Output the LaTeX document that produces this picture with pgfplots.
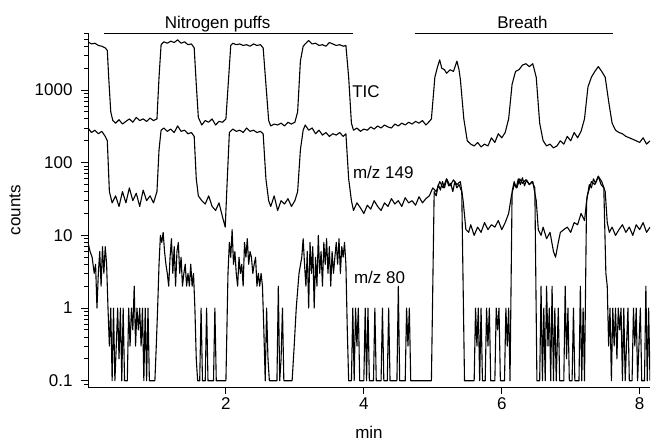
\documentclass[border=0pt]{standalone}
\usepackage{fontspec}
\setmainfont{Liberation Sans}
\usepackage{pgfplots}
\pgfplotsset{compat=1.18}
\begin{document}
\begin{tikzpicture}
\path (-88pt,-50pt) rectangle (564pt,387pt);
\begin{axis}[
  at={(0,0)}, anchor=south west,
  scale only axis, width=562pt, height=354pt,
  xmin=0, xmax=8.15, ymin=0.082, ymax=6085,
  ymode=log,
  axis lines=left, axis line style={-, line width=0.9pt},
  tick align=outside, tick style={line width=0.9pt, black},
  major tick length=7pt, minor tick length=4pt,
  xtick={2,4,6,8}, xticklabels={2,4,6,8},
  ytick={0.1,1,10,100,1000}, yticklabels={0.1,1,10,100,1000},
  minor ytick={0.09,0.2,0.3,0.4,0.5,0.6,0.7,0.8,0.9,2,3,4,5,6,7,8,9,20,30,40,50,60,70,80,90,200,300,400,500,600,700,800,900,2000,3000,4000,5000,6000},
  yticklabel style={xshift=-5pt},
  font=\fontsize{17}{20}\selectfont,
  /pgf/number format/assume math mode=true,
  xlabel={min}, ylabel={counts},
  every axis x label/.style={at={(axis description cs:0.5,-0.127)}, anchor=center},
  every axis y label/.style={at={(axis description cs:-0.130,0.5)}, rotate=90, anchor=center},
  clip mode=individual,
]
% TIC
\addplot[black, line width=1.1pt, line join=round, mark=none] coordinates {
(0.00,4600)(0.05,4300)(0.10,4400)(0.15,4100)(0.20,4000)(0.25,3800)(0.28,3500)(0.30,1500)(0.33,500)(0.36,380)
(0.40,350)(0.45,390)(0.50,340)(0.55,370)(0.60,400)(0.65,360)(0.70,420)(0.75,380)(0.80,400)(0.85,370)
(0.90,410)(0.95,380)(1.00,400)(1.03,1500)(1.06,4200)(1.10,4600)(1.15,4400)(1.20,4700)(1.25,4500)(1.30,4900)
(1.35,4400)(1.40,4600)(1.45,4200)(1.50,4300)(1.54,3800)(1.57,1200)(1.60,420)(1.65,330)(1.70,380)(1.75,360)
(1.80,400)(1.85,330)(1.90,370)(1.95,360)(2.00,400)(2.04,1500)(2.07,4100)(2.10,4400)(2.15,4200)(2.20,4300)
(2.25,4100)(2.30,4200)(2.35,4000)(2.40,4300)(2.45,4100)(2.50,4200)(2.54,3800)(2.58,1200)(2.62,380)(2.65,320)
(2.70,340)(2.75,330)(2.80,350)(2.85,320)(2.90,360)(2.95,340)(3.00,360)(3.04,500)(3.08,2500)(3.12,4000)
(3.15,4300)(3.20,4800)(3.25,4300)(3.30,4400)(3.35,4100)(3.40,4200)(3.45,4000)(3.50,4500)(3.55,4300)(3.60,4100)
(3.65,4200)(3.70,4000)(3.74,4100)(3.78,1500)(3.82,350)(3.85,280)(3.90,300)(3.95,270)(4.00,290)(4.05,280)
(4.10,310)(4.15,290)(4.20,320)(4.25,300)(4.30,330)(4.35,310)(4.40,300)(4.45,340)(4.50,320)(4.55,350)
(4.60,330)(4.65,360)(4.70,340)(4.75,370)(4.80,350)(4.85,380)(4.90,330)(4.95,370)(4.98,400)(5.03,1500)
(5.07,2100)(5.10,2600)(5.13,2000)(5.17,1900)(5.20,1700)(5.25,1900)(5.30,1800)(5.35,2500)(5.38,1900)(5.40,1400)
(5.45,400)(5.50,200)(5.55,180)(5.60,170)(5.65,190)(5.70,165)(5.75,180)(5.80,170)(5.85,220)(5.90,190)
(5.95,250)(6.00,220)(6.05,260)(6.10,400)(6.15,1200)(6.20,1800)(6.25,1900)(6.30,2200)(6.35,2300)(6.40,2100)
(6.45,2300)(6.50,1500)(6.55,350)(6.60,200)(6.65,170)(6.70,180)(6.75,160)(6.80,170)(6.85,200)(6.90,180)
(6.95,230)(7.00,200)(7.05,260)(7.10,220)(7.15,270)(7.20,400)(7.25,1100)(7.30,1500)(7.35,1800)(7.40,2100)
(7.45,1800)(7.50,1500)(7.55,700)(7.60,350)(7.65,280)(7.70,260)(7.75,250)(7.80,230)(7.85,220)(7.90,210)
(7.95,200)(8.00,190)(8.05,220)(8.10,180)(8.15,200)
};
% m/z 149
\addplot[black, line width=1.1pt, line join=round, mark=none] coordinates {
(0.00,300)(0.05,260)(0.10,280)(0.15,250)(0.20,270)(0.25,230)(0.28,200)(0.31,40)(0.35,28)(0.40,35)
(0.45,25)(0.50,40)(0.55,28)(0.60,45)(0.65,30)(0.70,38)(0.75,25)(0.80,42)(0.85,30)(0.90,35)
(0.95,28)(1.00,40)(1.03,150)(1.06,280)(1.10,300)(1.15,270)(1.20,290)(1.25,260)(1.30,320)(1.35,270)
(1.40,280)(1.45,250)(1.50,260)(1.54,230)(1.57,60)(1.60,35)(1.65,30)(1.70,27)(1.75,35)(1.80,25)
(1.85,22)(1.90,28)(1.95,18)(1.99,13)(2.02,60)(2.05,260)(2.10,290)(2.15,270)(2.20,280)(2.25,260)
(2.30,300)(2.35,270)(2.40,280)(2.45,260)(2.50,270)(2.54,250)(2.58,60)(2.62,30)(2.65,25)(2.70,35)
(2.75,22)(2.80,30)(2.85,27)(2.90,32)(2.95,25)(3.00,30)(3.04,40)(3.08,150)(3.12,280)(3.15,330)
(3.20,280)(3.25,300)(3.30,250)(3.35,280)(3.40,240)(3.45,260)(3.50,230)(3.55,250)(3.60,240)(3.65,260)
(3.70,230)(3.74,250)(3.78,60)(3.82,30)(3.85,22)(3.90,28)(3.95,24)(4.00,20)(4.05,26)(4.10,23)
(4.15,30)(4.20,25)(4.25,22)(4.30,28)(4.35,25)(4.40,32)(4.45,27)(4.50,30)(4.55,25)(4.60,33)
(4.65,28)(4.70,30)(4.75,26)(4.80,34)(4.85,28)(4.90,32)(4.95,35)(5.00,45)(5.05,40)(5.10,55)
(5.15,45)(5.20,60)(5.25,48)(5.30,58)(5.35,50)(5.40,55)(5.44,30)(5.48,12)(5.52,11)(5.55,14)
(5.60,10)(5.65,13)(5.70,11)(5.75,15)(5.80,12)(5.85,14)(5.90,13)(5.95,16)(6.00,12)(6.05,15)
(6.10,20)(6.14,35)(6.18,50)(6.22,45)(6.26,60)(6.30,52)(6.35,58)(6.40,50)(6.45,55)(6.50,30)
(6.53,12)(6.57,10)(6.60,13)(6.65,9)(6.70,11)(6.75,6)(6.78,5)(6.82,8)(6.85,11)(6.90,12)
(6.95,13)(7.00,11)(7.05,15)(7.10,14)(7.15,20)(7.20,16)(7.24,35)(7.30,55)(7.35,50)(7.40,65)
(7.45,55)(7.50,40)(7.53,15)(7.56,11)(7.60,13)(7.65,10)(7.70,12)(7.75,14)(7.80,11)(7.85,13)
(7.90,10)(7.95,14)(8.00,12)(8.05,15)(8.10,11)(8.15,13)
};
% m/z 80
\addplot[black, line width=1.1pt, line join=round, mark=none] coordinates {
(0.00,8)(0.03,6)(0.06,5)(0.09,3)(0.11,4)(0.13,1)(0.15,3)(0.17,6)(0.19,2)(0.21,7)
(0.23,3)(0.25,7)(0.27,4)(0.29,1)(0.31,0.3)(0.33,1)(0.35,0.1)(0.37,1)(0.39,0.1)(0.41,0.3)
(0.43,1)(0.45,0.2)(0.47,1)(0.49,0.1)(0.51,1)(0.53,0.1)(0.57,0.1)(0.59,1)(0.61,0.3)(0.63,1)
(0.65,0.5)(0.67,2)(0.69,0.3)(0.71,1)(0.73,0.5)(0.75,1)(0.77,0.3)(0.79,1)(0.81,0.1)(0.83,1)
(0.85,0.1)(0.87,1)(0.89,0.1)(0.97,0.1)(0.99,0.3)(1.01,1)(1.03,4)(1.05,10)(1.07,8)(1.09,11)
(1.11,6)(1.13,4)(1.15,3)(1.17,2)(1.19,5)(1.21,9)(1.23,3)(1.25,7)(1.27,2)(1.29,6)
(1.31,8)(1.33,3)(1.35,5)(1.37,2)(1.39,3)(1.41,4)(1.43,2)(1.45,3)(1.47,2)(1.49,4)
(1.51,2)(1.53,3)(1.55,1)(1.57,0.2)(1.59,0.1)(1.62,0.1)(1.64,1)(1.66,0.1)(1.70,0.1)(1.72,1)
(1.74,0.1)(1.82,0.1)(1.84,1)(1.86,0.1)(2.00,0.1)(2.03,3)(2.05,8)(2.07,5)(2.09,12)(2.11,4)
(2.13,6)(2.15,3)(2.17,2)(2.19,5)(2.21,3)(2.23,4)(2.25,2)(2.27,8)(2.29,5)(2.31,9)
(2.33,4)(2.35,6)(2.37,5)(2.39,3)(2.41,4)(2.43,5)(2.45,2)(2.47,3)(2.49,2)(2.51,3)
(2.53,2)(2.55,0.5)(2.57,0.1)(2.59,1)(2.61,0.2)(2.63,0.1)(2.74,0.1)(2.76,2)(2.78,0.1)(2.80,0.2)
(2.82,1)(2.84,0.1)(2.96,0.1)(2.99,0.3)(3.02,1)(3.06,3)(3.10,5)(3.12,9)(3.14,4)(3.16,2)
(3.18,6)(3.20,1)(3.22,8)(3.24,3)(3.26,7)(3.28,1)(3.30,5)(3.32,2)(3.34,10)(3.36,3)
(3.38,6)(3.40,2)(3.42,8)(3.44,4)(3.46,9)(3.48,3)(3.50,7)(3.52,2)(3.54,6)(3.56,3)
(3.58,5)(3.60,8)(3.62,4)(3.64,9)(3.66,3)(3.68,7)(3.70,5)(3.72,8)(3.74,4)(3.76,0.5)
(3.78,0.1)(3.82,0.1)(3.84,1)(3.86,0.1)(3.88,1)(3.90,0.3)(3.92,1)(3.94,0.1)(4.00,0.1)(4.02,1)
(4.04,0.1)(4.06,1)(4.08,0.1)(4.14,0.1)(4.16,1)(4.18,0.1)(4.25,0.1)(4.27,1)(4.29,0.1)(4.34,0.1)
(4.36,1)(4.38,0.1)(4.48,0.1)(4.50,2)(4.52,0.1)(4.60,0.1)(4.62,1)(4.64,0.3)(4.66,1)(4.68,0.1)
(4.98,0.1)(5.02,40)(5.05,35)(5.08,50)(5.11,42)(5.14,55)(5.17,45)(5.20,60)(5.23,48)(5.26,52)
(5.29,40)(5.32,55)(5.35,45)(5.38,50)(5.42,40)(5.46,0.1)(5.60,0.1)(5.62,1)(5.64,0.3)(5.66,1)
(5.68,0.1)(5.70,1)(5.72,0.1)(5.76,0.1)(5.78,1)(5.80,0.3)(5.82,1)(5.84,0.1)(5.90,0.1)(5.92,1)
(5.94,0.5)(5.96,1)(5.98,0.1)(6.04,0.1)(6.06,1)(6.08,0.3)(6.10,1)(6.12,0.1)(6.15,40)(6.18,55)
(6.21,45)(6.24,60)(6.27,50)(6.30,62)(6.33,48)(6.36,58)(6.40,50)(6.44,55)(6.48,45)(6.51,0.1)
(6.55,0.1)(6.57,2)(6.59,0.1)(6.61,1)(6.63,0.1)(6.65,2)(6.67,0.3)(6.69,1)(6.71,0.1)(6.73,2)
(6.75,0.1)(6.77,1)(6.79,0.1)(6.82,1)(6.84,0.1)(6.90,0.1)(6.92,2)(6.94,0.2)(6.96,1)(6.98,0.1)
(7.02,0.1)(7.04,1)(7.06,0.1)(7.12,0.1)(7.14,2)(7.16,0.1)(7.18,1)(7.20,0.1)(7.23,30)(7.27,50)
(7.30,45)(7.33,60)(7.36,52)(7.40,65)(7.44,50)(7.48,45)(7.51,3)(7.53,2)(7.55,0.3)(7.57,1)
(7.59,0.1)(7.61,1)(7.63,0.3)(7.65,1)(7.67,0.2)(7.69,1)(7.71,0.5)(7.73,1)(7.75,0.1)(7.77,1)
(7.79,0.1)(7.83,1)(7.85,0.1)(7.89,0.1)(7.91,1)(7.93,0.3)(7.95,1)(7.97,0.1)(8.01,1)(8.03,0.1)
(8.07,0.1)(8.09,2)(8.11,0.1)(8.13,1)(8.15,0.1)
};
% annotations
\draw[line width=0.9pt] (axis cs:0.23,6085) -- (axis cs:3.84,6085);
\draw[line width=0.9pt] (axis cs:4.74,6085) -- (axis cs:7.62,6085);
\node[anchor=base, yshift=4pt] at (axis cs:1.88,6085) {Nitrogen puffs};
\node[anchor=base, yshift=4pt] at (axis cs:6.30,6085) {Breath};
\node[anchor=west, inner sep=0pt] at (axis cs:3.83,940) {TIC};
\node[anchor=west, inner sep=0pt] at (axis cs:3.84,73.6) {m/z 149};
\node[anchor=west, inner sep=0pt] at (axis cs:3.855,2.6) {m/z 80};
\end{axis}
\end{tikzpicture}
\end{document}
